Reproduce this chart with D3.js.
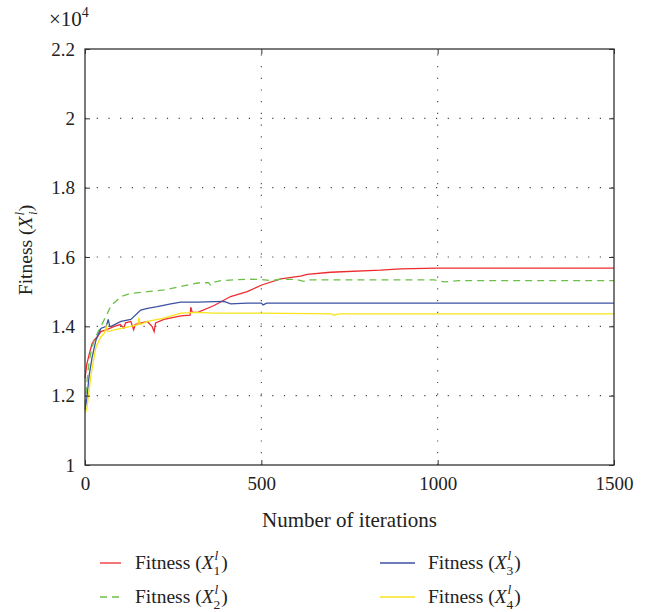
<!DOCTYPE html>
<html>
<head>
<meta charset="utf-8">
<script src="https://cdn.jsdelivr.net/npm/d3@7"></script>
<style>
  body { margin: 0; background: #fff; }
  svg text { font-family: "Liberation Serif", "DejaVu Serif", serif; fill: #222; }
</style>
</head>
<body>
<div id="chart"></div>
<script>
// values in units of 10^4
var xTicks = [0, 500, 1000, 1500];
var yTicks = [1, 1.2, 1.4, 1.6, 1.8, 2, 2.2];
var yTickLabels = ["1", "1.2", "1.4", "1.6", "1.8", "2", "2.2"];

var fitness1 = [[0,1.25],[5,1.29],[12,1.32],[20,1.35],[26,1.36],[35,1.37],[45,1.385],[60,1.39],[83,1.40],[100,1.405],[110,1.395],[115,1.41],[130,1.414],[138,1.39],[142,1.405],[160,1.41],[177,1.414],[190,1.40],[196,1.385],[200,1.41],[224,1.42],[272,1.43],[298,1.432],[300,1.455],[304,1.44],[320,1.44],[366,1.46],[413,1.486],[460,1.50],[503,1.52],[555,1.537],[611,1.545],[630,1.55],[696,1.556],[838,1.562],[895,1.566],[998,1.568],[1500,1.568]];
var fitness2 = [[0,1.17],[5,1.235],[12,1.30],[18,1.33],[26,1.36],[40,1.39],[55,1.42],[74,1.46],[102,1.486],[130,1.495],[177,1.50],[224,1.505],[272,1.515],[320,1.525],[350,1.526],[357,1.518],[365,1.527],[385,1.532],[460,1.536],[500,1.535],[530,1.532],[555,1.536],[600,1.535],[620,1.53],[630,1.534],[990,1.534],[1020,1.528],[1060,1.532],[1500,1.532]];
var fitness3 = [[0,1.16],[5,1.19],[12,1.26],[20,1.31],[31,1.36],[45,1.394],[60,1.40],[66,1.42],[70,1.40],[74,1.40],[102,1.414],[130,1.42],[158,1.447],[177,1.452],[205,1.457],[243,1.465],[272,1.47],[320,1.47],[394,1.472],[413,1.465],[460,1.467],[500,1.467],[505,1.462],[515,1.467],[1500,1.467]];
var fitness4 = [[0,1.15],[5,1.16],[17,1.26],[31,1.34],[45,1.37],[55,1.38],[60,1.40],[64,1.385],[83,1.39],[130,1.40],[150,1.405],[153,1.425],[156,1.405],[177,1.414],[224,1.424],[272,1.438],[320,1.44],[366,1.438],[500,1.438],[700,1.436],[705,1.432],[720,1.436],[1500,1.436]];

var seriesNames = ["1", "2", "3", "4"];
var seriesData = [fitness1, fitness2, fitness3, fitness4];
var seriesColors = ["#ee2b2e", "#6cbf47", "#3c52a3", "#f6e51a"];
var seriesDash = [null, "7,5", null, null];

var SERIF = "Liberation Serif";

var W = 647, H = 612;
var margin = { top: 49, right: 33, bottom: 147, left: 85 };
var innerW = W - margin.left - margin.right;
var innerH = H - margin.top - margin.bottom;

var svg = d3.select("#chart").append("svg")
  .attr("width", W)
  .attr("height", H)
  .attr("font-family", SERIF);

var x = d3.scaleLinear().domain([0, 1500]).range([margin.left, margin.left + innerW]);
var y = d3.scaleLinear().domain([1, 2.2]).range([margin.top + innerH, margin.top]);

// dotted grid
svg.selectAll(".hgrid")
  .data(yTicks.slice(1, -1))
  .join("line")
  .attr("class", "hgrid")
  .attr("x1", x(0)).attr("x2", x(1500))
  .attr("y1", d => y(d)).attr("y2", d => y(d))
  .style("stroke", "#444")
  .style("stroke-width", 1.1)
  .style("stroke-dasharray", "1.2,10.5");

svg.selectAll(".vgrid")
  .data(xTicks.slice(1, -1))
  .join("line")
  .attr("class", "vgrid")
  .attr("x1", d => x(d)).attr("x2", d => x(d))
  .attr("y1", y(1)).attr("y2", y(2.2))
  .style("stroke", "#444")
  .style("stroke-width", 1.1)
  .style("stroke-dasharray", "1.2,10.5");

// curves
var line = d3.line()
  .x(d => x(d[0]))
  .y(d => y(d[1]));

svg.selectAll(".series")
  .data(seriesData)
  .join("path")
  .attr("class", "series")
  .attr("d", line)
  .style("fill", "none")
  .style("stroke", (d, i) => seriesColors[i])
  .style("stroke-width", 1.3)
  .style("stroke-dasharray", (d, i) => seriesDash[i]);

// frame
svg.append("rect")
  .attr("x", x(0)).attr("y", y(2.2))
  .attr("width", x(1500) - x(0))
  .attr("height", y(1) - y(2.2))
  .style("fill", "none")
  .style("stroke", "#333")
  .style("stroke-width", 1.3);

// axes with inward ticks
var yAxisL = d3.axisLeft(y).tickValues(yTicks).tickSize(-5).tickPadding(10)
  .tickFormat((d, i) => yTickLabels[i]);
var gyl = svg.append("g").attr("transform", "translate(" + x(0) + ",0)").call(yAxisL);
var gyr = svg.append("g").attr("transform", "translate(" + x(1500) + ",0)")
  .call(d3.axisRight(y).tickValues(yTicks).tickSize(-5).tickFormat(""));
var gxb = svg.append("g").attr("transform", "translate(0," + y(1) + ")")
  .call(d3.axisBottom(x).tickValues(xTicks).tickSize(-5).tickPadding(12).tickFormat(d3.format("d")));
var gxt = svg.append("g").attr("transform", "translate(0," + y(2.2) + ")")
  .call(d3.axisTop(x).tickValues(xTicks).tickSize(-5).tickFormat(""));

[gyl, gyr, gxb, gxt].forEach(function(g) {
  g.attr("font-family", SERIF).attr("font-size", 19);
  g.select(".domain").remove();
  g.selectAll(".tick line").style("stroke", "#333");
  g.selectAll(".tick text")
    .attr("font-family", SERIF)
    .style("fill", "#222");
});

// exponent
var expo = svg.append("text")
  .attr("x", 49).attr("y", 26)
  .style("font-size", "21px");
expo.append("tspan").text("×10");
expo.append("tspan").attr("dy", -9).style("font-size", "14px").text("4");

// axis titles
svg.append("text")
  .attr("x", x(750)).attr("y", 527)
  .attr("text-anchor", "middle")
  .style("font-size", "21px")
  .text("Number of iterations");

var yl = svg.append("text")
  .attr("transform", "translate(32,250) rotate(-90)")
  .attr("text-anchor", "middle")
  .style("font-size", "19.5px");
yl.append("tspan").text("Fitness (");
yl.append("tspan").style("font-style", "italic").text("X");
yl.append("tspan").attr("dy", -8).attr("dx", 1).style("font-size", "13px").style("font-style", "italic").text("l");
yl.append("tspan").attr("dy", 13).attr("dx", -3).style("font-size", "13px").style("font-style", "italic").text("i");
yl.append("tspan").attr("dy", -5).text(")");

// legend
var legendPos = [[100, 569], [100, 603], [380, 569], [380, 603]];

seriesNames.forEach(function(name, i) {
  var px = legendPos[i][0], py = legendPos[i][1];
  svg.append("line")
    .attr("x1", px).attr("x2", px + (i < 2 ? 21 : 35))
    .attr("y1", py - 6).attr("y2", py - 6)
    .style("stroke", seriesColors[i])
    .style("stroke-width", 1.3)
    .style("stroke-dasharray", seriesDash[i]);

  var tx = i < 2 ? 135 : 428;
  var t1 = svg.append("text").attr("x", tx).attr("y", py)
    .style("font-size", "19.5px").text("Fitness (");
  var w1 = t1.node().getComputedTextLength();
  var t2 = svg.append("text").attr("x", tx + w1).attr("y", py)
    .style("font-size", "19.5px").style("font-style", "italic").text("X");
  var w2 = t2.node().getComputedTextLength();
  var sx = tx + w1 + w2 + 1;
  svg.append("text").attr("x", sx).attr("y", py - 9)
    .style("font-size", "13.5px").style("font-style", "italic").text("l");
  var t4 = svg.append("text").attr("x", sx - 1).attr("y", py + 6)
    .style("font-size", "13.5px").text(name);
  var w4 = t4.node().getComputedTextLength();
  svg.append("text").attr("x", sx - 1 + w4 + 1).attr("y", py)
    .style("font-size", "19.5px").text(")");
});
</script>
</body>
</html>
